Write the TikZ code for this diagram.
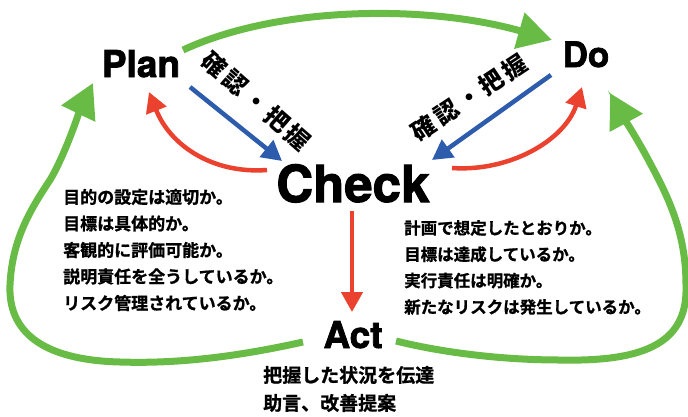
\documentclass[tikz,border=0pt]{standalone}
\usepackage{fontspec}
\setmainfont{TeX Gyre Heros}
\newfontfamily\heavy{TeX Gyre Heros}[UprightFont=* Bold, FakeBold=2]
\newfontfamily\jp{Noto Sans CJK JP}[UprightFont=* Bold, FakeBold=1]
\newfontfamily\jpb{Noto Sans CJK JP}[UprightFont=* Black]
\usetikzlibrary{arrows.meta}
\definecolor{pgreen}{RGB}{104,188,70}
\definecolor{pred}{RGB}{234,66,46}
\definecolor{pblue}{RGB}{46,92,172}
\tikzset{
  word/.style={font=\heavy\fontsize{#1}{#1}\selectfont, inner sep=0pt, anchor=base},
  jtext/.style={font=\jp\fontsize{#1}{#1}\selectfont, inner sep=0pt, anchor=west},
  jlabel/.style={font=\jpb\fontsize{24}{24}\selectfont, inner sep=0pt},
  garrow/.style={draw=pgreen, line width=7pt, -{Triangle[length=34pt,width=36pt]}},
  rarrow/.style={draw=pred, line width=4.5pt, -{Triangle[length=20pt,width=21pt]}},
  barrow/.style={draw=pblue, line width=4.5pt, -{Triangle[length=20pt,width=21pt]}},
}
\newcommand{\gsp}{\hspace{3.5pt}}
\begin{document}
\begin{tikzpicture}[x=1pt,y=-1pt]
\useasboundingbox (0,0) rectangle (688,416);
% main words
\node[word=37] (plan) at (141,77) {Plan};
\node[word=35] (do) at (586,67) {Do};
\node[word=51] (check) at (353,202) {Check};
\node[word=37] (act) at (353,348) {Act};
% rotated labels
\node[jlabel, rotate=-41] (lab1) at (256.5,101) {確\gsp 認\gsp ・\gsp 把\gsp 握};
\node[jlabel, rotate=33.5] (lab2) at (469,97.5) {確\gsp 認\gsp ・\gsp 把\gsp 握};
% left list
\node[jtext=17] (l1) at (63,197) {目的の設定は適切か。};
\node[jtext=17] (l2) at (63,223.5) {目標は具体的か。};
\node[jtext=17] (l3) at (63,250) {客観的に評価可能か。};
\node[jtext=17] (l4) at (63,276.5) {説明責任を全うしているか。};
\node[jtext=17] (l5) at (63,303) {リスク管理されているか。};
% right list
\node[jtext=16.5] (r1) at (404,228) {計画で想定したとおりか。};
\node[jtext=16.5] (r2) at (404,254.3) {目標は達成しているか。};
\node[jtext=16.5] (r3) at (404,280.6) {実行責任は明確か。};
\node[jtext=16.5] (r4) at (404,307) {新たなリスクは発生しているか。};
% bottom text
\node[jtext=19] (b1) at (263,375) {把握した状況を伝達};
\node[jtext=19] (b2) at (263,403) {助言、改善提案};
% connector end points
\coordinate (planNE) at (183,50);
\coordinate (doNW) at (552,40);
\coordinate (actW) at (303,342);
\coordinate (planSW) at (93,83);
\coordinate (actE) at (396,341);
\coordinate (doSE) at (610,93);
\coordinate (planSE) at (190,87);
\coordinate (checkNW) at (282,161);
\coordinate (doSW) at (551,75);
\coordinate (checkNE) at (432,160);
\coordinate (checkW) at (267,170);
\coordinate (planS) at (149,92);
\coordinate (checkE) at (452,168);
\coordinate (doS) at (582,87);
\coordinate (checkS) at (352,211);
\coordinate (actN) at (352,312);
% green arrows
\draw[garrow] (planNE) .. controls (280,5) and (430,5) .. (doNW);
\draw[garrow] (actW) .. controls (240,356) and (180,364) .. (120,362)
   .. controls (40,360) and (8,330) .. (10,285)
   .. controls (12,240) and (30,210) .. (50,180)
   .. controls (65,155) and (80,110) .. (planSW);
\draw[garrow] (actE) .. controls (440,352) and (500,360) .. (560,360)
   .. controls (650,362) and (688,340) .. (686,285)
   .. controls (686,235) and (670,200) .. (650,163)
   .. controls (638,140) and (622,115) .. (doSE);
% blue arrows
\draw[barrow] (planSE) -- (checkNW);
\draw[barrow] (doSW) -- (checkNE);
% red arrows
\draw[rarrow] (checkW) .. controls (212,174) and (170,145) .. (planS);
\draw[rarrow] (checkE) .. controls (510,172) and (565,140) .. (doS);
\draw[rarrow] (checkS) -- (actN);
\end{tikzpicture}
\end{document}
